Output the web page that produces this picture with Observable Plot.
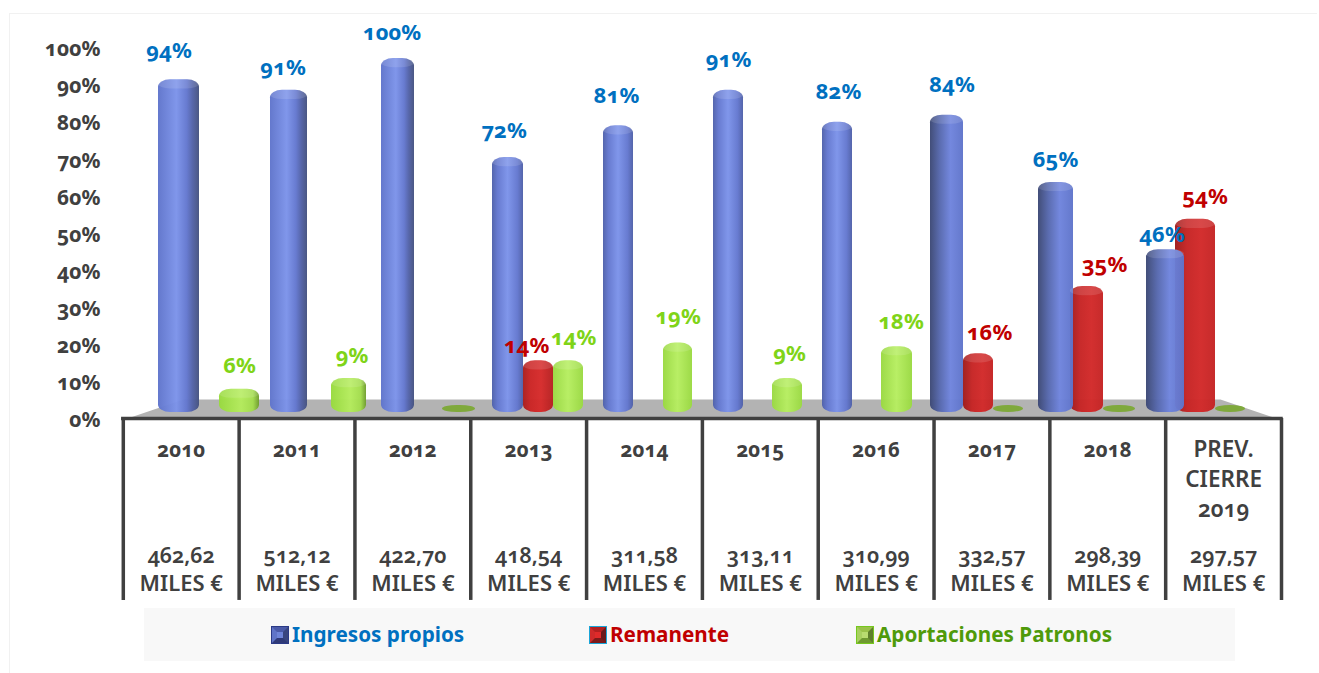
<!DOCTYPE html>
<html lang="es">
<head>
<meta charset="utf-8">
<script src="https://cdn.jsdelivr.net/npm/d3@7"></script>
<script src="https://cdn.jsdelivr.net/npm/@observablehq/plot@0.6"></script>
<style>
  html, body { margin: 0; background: #fff; }
  #page { position: relative; width: 1319px; height: 673px; overflow: hidden; font-family: "Noto Sans", sans-serif; }
  #edge { position: absolute; left: 9px; top: 13px; right: 2px; bottom: 0; border-left: 1px solid #f1f1f1; border-top: 1px solid #f1f1f1; }
  #bars, #table { position: absolute; left: 0; top: 0; }
  #page svg { font-variant-numeric: oldstyle-nums; font-feature-settings: "onum"; background: transparent; }
  #legend { position: absolute; left: 144px; top: 608px; width: 1091px; height: 53px; background: #f8f8f8; font-weight: 700; font-size: 20.7px; }
  .item { position: absolute; top: 0; height: 53px; line-height: 53px; white-space: nowrap; }
  .sw { position: absolute; left: -20px; top: 19px; width: 6px; height: 6px; border-style: solid; border-width: 5px; outline-style: solid; outline-width: 1px; outline-offset: 0; }
</style>
</head>
<body>
<div id="page">
  <div id="edge"></div>
  <div id="bars"></div>
  <div id="table"></div>
  <div id="legend"></div>
</div>
<script>
// ---- data ----
const categories = ["2010", "2011", "2012", "2013", "2014", "2015", "2016", "2017", "2018", "PREV.\nCIERRE\n2019"];
const totals = ["462,62", "512,12", "422,70", "418,54", "311,58", "313,11", "310,99", "332,57", "298,39", "297,57"];
const ingresosPropios = [94, 91, 100, 72, 81, 91, 82, 84, 65, 46];
const remanente = [null, null, null, 14, null, null, null, 16, 35, 54];
const aportacionesPatronos = [6, 9, 0, 14, 19, 9, 18, 0, 0, 0];
const axisTicks = [0, 10, 20, 30, 40, 50, 60, 70, 80, 90, 100];
const unitLabel = "MILES €";

// ---- layout of the perspective floor: pixel range of the x scale, five edges per year ----
// blue left, red left, blue right, red right, green right
const slotEdges = [
  [158, 199, 199, 219, 259], [270, 307, 307, 331, 366], [381, 414, 414, 442, 475],
  [492, 523, 523, 553, 583], [603, 633, 633, 663, 692], [713, 743, 743, 772, 802],
  [822, 852, 852, 881, 912], [930, 963, 963, 993, 1023], [1038, 1070, 1073, 1103, 1135],
  [1146, 1175, 1184, 1215, 1245]
];
// label nudges in pixels [dx, dy] relative to the anchor unit of the series and the bar top
const blueNudge = [[-10, -29], [-6, -22], [-6, -26], [-4, -27], [-2, -30], [0, -30], [1, -30], [5, -30], [1, -22], [1, -15]];
const redNudge = [null, null, null, [-12, -15], null, null, null, [11, -21], [16, -22], [5, -22]];
const greenNudge = [[0, -23], [3, -23], null, [5, -23], [0, -26], [2, -25], [4, -25], null, null, null];
const raiseGreenRed = 0.6; // the cap of the short cylinders rises a little above the value

const slotUnits = [0, 0.2, 0.4, 0.6, 0.8];
const xDomain = [-1, ...slotEdges.flatMap((e, g) => slotUnits.map(u => g + u)), 10];
const xRange = [130, ...slotEdges.flat(), 1273];

const view = g => (g < 3 ? "l" : g < 7 ? "c" : "r");

function gradient(id, stops) {
  return `<linearGradient id="${id}" x1="0" x2="1" y1="0" y2="0">` +
    stops.map(([o, c]) => `<stop offset="${o}" stop-color="${c}"/>`).join("") + `</linearGradient>`;
}
const defsMarkup = [
  gradient("blue-l", [[0, "#5f74cb"], [0.45, "#7c93ea"], [0.7, "#6377cf"], [0.84, "#5262a8"], [1, "#45527f"]]),
  gradient("blue-c", [[0, "#4f61aa"], [0.18, "#6377cf"], [0.5, "#7c93ea"], [0.82, "#6377cf"], [1, "#4f60a8"]]),
  gradient("blue-r", [[0, "#3c4874"], [0.3, "#5668ae"], [0.62, "#6f84dd"], [1, "#5f74ca"]]),
  gradient("red-l", [[0, "#d02626"], [0.5, "#d62a2a"], [1, "#9a1c1c"]]),
  gradient("red-c", [[0, "#a81e1e"], [0.25, "#cb2424"], [0.6, "#d62a2a"], [1, "#b52020"]]),
  gradient("red-r", [[0, "#9e1c1c"], [0.3, "#c62424"], [0.65, "#d22929"], [1, "#c42424"]]),
  gradient("green-l", [[0, "#98da3e"], [0.55, "#b4ec5c"], [0.85, "#a2dc4c"], [1, "#6f9c2e"]]),
  gradient("green-c", [[0, "#9ad942"], [0.5, "#b6ee60"], [1, "#9ad942"]]),
  gradient("green-r", [[0, "#9ad942"], [0.5, "#b6ee60"], [1, "#a4e04c"]])
].join("");

const defsMark = () => {
  const d = document.createElementNS("http://www.w3.org/2000/svg", "defs");
  d.innerHTML = defsMarkup;
  return d;
};

// ---- table built from the arrays ----
const rowsOf = (name, values, slot, anchor, nudges, raise, text) =>
  values.map((v, g) => ({name, g, v, x1: g + slot[0], x2: g + slot[1], at: g + anchor, nudge: nudges[g], raise, text}))
        .filter(d => d.v !== null);

const rows = [
  ...rowsOf("red", remanente, [0.2, 0.6], 0.5, redNudge, raiseGreenRed, "#c00000"),
  ...rowsOf("blue", ingresosPropios, [0, 0.4], 0.1, blueNudge, 0, "#0070c0"),
  ...rowsOf("green", aportacionesPatronos, [0.6, 0.8], 0.7, greenNudge, raiseGreenRed, "#7fd418")
];
const standing = rows.filter(d => d.v > 0);
const flat = rows.filter(d => d.v === 0);

const barMarks = ["red", "blue", "green"].flatMap(name => ["l", "c", "r"].map(vw =>
  Plot.rect(standing.filter(d => d.name === name && view(d.g) === vw), {
    x1: "x1", x2: "x2", y1: 0, y2: d => d.v + d.raise,
    fill: `url(#${name}-${vw})`, fillOpacity: 0.97, rx: 12, ry: 7.5
  })
));
const capMark = Plot.rect(standing, {
  x1: "x1", x2: "x2", y1: d => d.v + d.raise - 2.6, y2: d => d.v + d.raise,
  fill: "#fff", fillOpacity: 0.12, rx: 12, ry: 7.5
});
const labelMarks = standing.map(d => Plot.text([d], {
  x: "at", y: v => v.v + v.raise, text: v => `${v.v}%`,
  dx: d.nudge[0], dy: d.nudge[1],
  fill: d.text, fontSize: 22, fontWeight: 700, textAnchor: "middle", lineAnchor: "middle"
}));

// floor corners in scale units
const floorEdge = [[-1, -1.4], [0.122, 3.7], [9.633, 3.7], [10, -1.4], [-1, -1.4]];

const barsPlot = Plot.plot({
  width: 1319, height: 608, margin: 0,
  style: {background: "transparent", fontFamily: '"Noto Sans", sans-serif'},
  x: {type: "linear", domain: xDomain, range: xRange, axis: null},
  y: {type: "linear", domain: [0, 100], range: [412, 58], axis: null},
  marks: [
    defsMark,
    Plot.line(floorEdge, {x: "0", y: "1", fill: "#b3b3b3", stroke: "none", curve: "linear"}),
    Plot.rect(flat, {x1: "x1", x2: "x2", y1: 0, y2: 2, fill: "#7fa93c", rx: 15, ry: 3.5}),
    ...barMarks,
    capMark,
    ...labelMarks
  ]
});
document.getElementById("bars").append(barsPlot);

// ---- axis and the table under the chart ----
const tableTop = 0.54, tableBottom = -48.5;
const separators = d3.range(categories.length + 1);
const textStyle = {fill: "#404040", textAnchor: "middle", lineAnchor: "middle", frameAnchor: "top"};
const tablePlot = Plot.plot({
  width: 1319, height: 608, marginLeft: 102, marginRight: 0, marginTop: 0, marginBottom: 0,
  style: {background: "transparent", fontFamily: '"Noto Sans", sans-serif'},
  x: {type: "linear", domain: [0, categories.length], range: [122.8, 1281], axis: null},
  y: {type: "linear", domain: [0, 100], range: [420, 49], axis: null},
  marks: [
    Plot.axisY(axisTicks, {
      anchor: "left", tickSize: 0, tickPadding: 2, label: null,
      tickFormat: d => `${d}%`, fill: "#404040", fontSize: 21, fontWeight: 700
    }),
    Plot.ruleY([tableTop], {x1: -0.015, x2: categories.length + 0.015, stroke: "#404040", strokeWidth: 3.5}),
    Plot.ruleX(separators, {y1: tableTop, y2: tableBottom, stroke: "#404040", strokeWidth: 3.5}),
    Plot.text(categories.slice(0, 9), {...textStyle, x: (d, i) => i + 0.5, text: d => d, dy: 450, fontSize: 20.5, fontWeight: 700}),
    Plot.text([categories[9]], {...textStyle, x: 9.5, text: d => d, dy: 477, fontSize: 22.5, fontWeight: 600, lineHeight: 1.33}),
    Plot.text(totals, {...textStyle, x: (d, i) => i + 0.5, text: d => d, dy: 556, fontSize: 21.5, fontWeight: 600}),
    Plot.text(totals, {...textStyle, x: (d, i) => i + 0.5, text: () => unitLabel, dy: 583.5, fontSize: 22, fontWeight: 600})
  ]
});
document.getElementById("table").append(tablePlot);

// ---- legend ----
const legendEntries = [
  {label: "Ingresos propios", color: "#0070c0", left: 148, outline: "#2b3a86", center: "#6e84d8", bevel: ["#4a5aa8", "#39467f", "#2f3a78", "#5f74c8"]},
  {label: "Remanente", color: "#c00000", left: 466, outline: "#19a5d8", center: "#e02a2a", bevel: ["#b32020", "#6a1a1a", "#7d1a1a", "#d02a2a"]},
  {label: "Aportaciones Patronos", color: "#4f9a0a", left: 733, outline: "#76c81e", center: "#b8dc70", bevel: ["#9ac24a", "#5e7f2c", "#6f9a30", "#a8d060"]}
];
const legend = document.getElementById("legend");
for (const e of legendEntries) {
  const item = document.createElement("div");
  item.className = "item";
  item.style.left = e.left + "px";
  item.style.color = e.color;
  item.textContent = e.label;
  const sw = document.createElement("span");
  sw.className = "sw";
  sw.style.borderColor = e.bevel.join(" ");
  sw.style.outlineColor = e.outline;
  sw.style.background = e.center;
  item.append(sw);
  legend.append(item);
}
</script>
</body>
</html>
